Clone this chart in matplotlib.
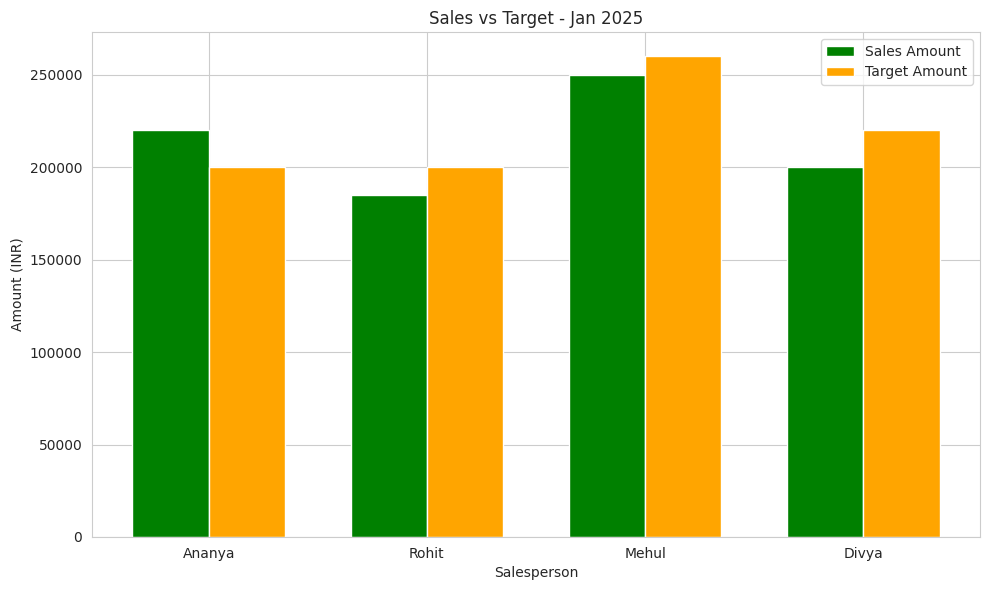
import matplotlib.pyplot as plt
import numpy as np
import seaborn as sns

sns.set_style("whitegrid")

salespeople = ['Ananya', 'Rohit', 'Mehul', 'Divya']
sales_amount = [220000, 185000, 250000, 200000]
target_amount = [200000, 200000, 260000, 220000]

x = np.arange(len(salespeople))
width = 0.35

fig, ax = plt.subplots(figsize=(9.89, 5.9), dpi=100)

ax.bar(x - width / 2, sales_amount, width, label='Sales Amount', color='green', edgecolor='white')
ax.bar(x + width / 2, target_amount, width, label='Target Amount', color='orange', edgecolor='white')

ax.set_xticks(x)
ax.set_xticklabels(salespeople)
ax.set_xlabel('Salesperson')
ax.set_ylabel('Amount (INR)')
ax.set_title('Sales vs Target - Jan 2025')
ax.legend()

fig.subplots_adjust(left=92 / 989, right=980 / 989, top=1 - 32 / 590, bottom=1 - 537 / 590)
plt.savefig('out.png', dpi=100)
plt.close()
